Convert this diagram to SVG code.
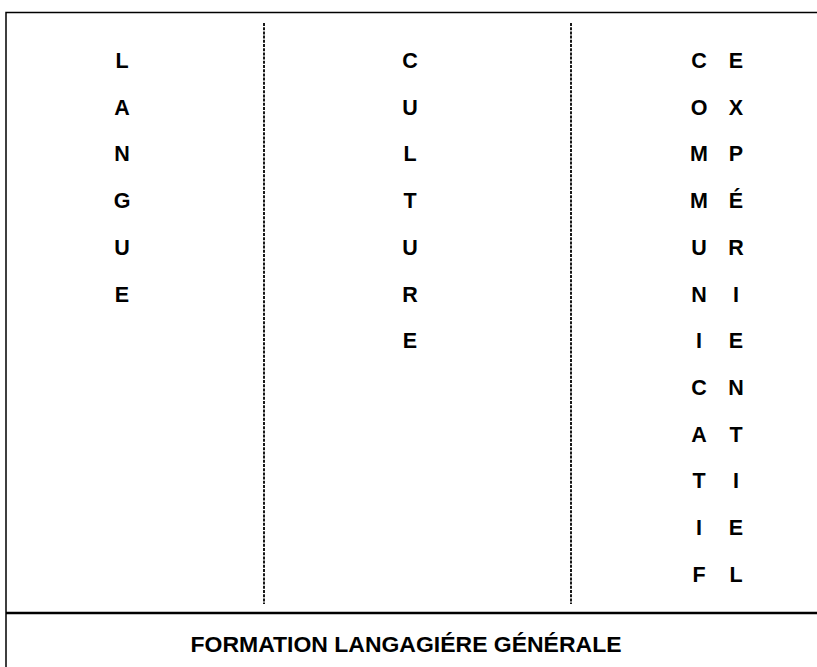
<svg xmlns="http://www.w3.org/2000/svg" width="817" height="667" viewBox="0 0 817 667">
<style>
.frame{stroke:#000;fill:none}
.dash{stroke:#000;stroke-width:1.8;stroke-dasharray:3 1.2;fill:none}
.l{font-family:"Liberation Sans",Arial,sans-serif;font-weight:bold;font-size:21.5px;fill:#000;text-anchor:middle}
.t{font-family:"Liberation Sans",Arial,sans-serif;font-weight:bold;font-size:22px;fill:#000;text-anchor:middle}
</style>
<rect width="817" height="667" fill="#fff"/>
<g id="frame">
<path class="frame" stroke-width="1.5" d="M6,680 V12.5 H820"/>
<path class="frame" stroke-width="2.5" d="M6,613 H820"/>
</g>
<g id="dividers">
<line class="dash" x1="264" y1="23" x2="264" y2="604"/>
<line class="dash" x1="571" y1="23" x2="571" y2="604"/>
</g>
<g id="langue" class="l">
<text x="122" y="68">L</text>
<text x="122" y="114.7">A</text>
<text x="122" y="161.4">N</text>
<text x="122" y="208.1">G</text>
<text x="122" y="254.8">U</text>
<text x="122" y="301.5">E</text>
</g>
<g id="culture" class="l">
<text x="410" y="68">C</text>
<text x="410" y="114.7">U</text>
<text x="410" y="161.4">L</text>
<text x="410" y="208.1">T</text>
<text x="410" y="254.8">U</text>
<text x="410" y="301.5">R</text>
<text x="410" y="348.2">E</text>
</g>
<g id="communicatif" class="l">
<text x="699" y="68">C</text>
<text x="699" y="114.7">O</text>
<text x="699" y="161.4">M</text>
<text x="699" y="208.1">M</text>
<text x="699" y="254.8">U</text>
<text x="699" y="301.5">N</text>
<text x="699" y="348.2">I</text>
<text x="699" y="394.9">C</text>
<text x="699" y="441.6">A</text>
<text x="699" y="488.3">T</text>
<text x="699" y="535">I</text>
<text x="699" y="581.7">F</text>
</g>
<g id="experientiel" class="l">
<text x="736" y="68">E</text>
<text x="736" y="114.7">X</text>
<text x="736" y="161.4">P</text>
<text x="736" y="208.1">É</text>
<text x="736" y="254.8">R</text>
<text x="736" y="301.5">I</text>
<text x="736" y="348.2">E</text>
<text x="736" y="394.9">N</text>
<text x="736" y="441.6">T</text>
<text x="736" y="488.3">I</text>
<text x="736" y="535">E</text>
<text x="736" y="581.7">L</text>
</g>
<g id="formation">
<text class="t" x="406" y="652" textLength="431" lengthAdjust="spacingAndGlyphs">FORMATION LANGAGIÉRE GÉNÉRALE</text>
</g>
</svg>
